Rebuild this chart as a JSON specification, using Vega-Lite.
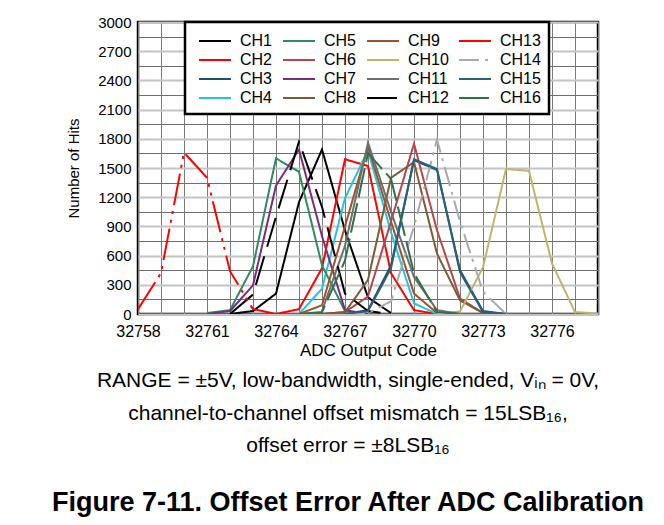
{
  "$schema": "https://vega.github.io/schema/vega-lite/v6.json",
  "width": 460,
  "height": 292,
  "autosize": {"type": "none"},
  "padding": {"left": 138, "top": 22, "right": 66, "bottom": 211},
  "background": "white",
  "config": {
    "view": {"stroke": "black", "strokeWidth": 2.5},
    "axis": {
      "labelFont": "Liberation Sans",
      "titleFont": "Liberation Sans",
      "labelColor": "black",
      "titleColor": "black",
      "titleFontWeight": "normal",
      "ticks": false,
      "domain": false
    }
  },
  "title": {
    "text": ["RANGE = ±5V, low-bandwidth, single-ended, Vᵢₙ = 0V,", "channel-to-channel offset mismatch = 15LSB₁₆,", "offset error = ±8LSB₁₆"],
    "subtitle": "Figure 7-11. Offset Error After ADC Calibration",
    "orient": "bottom",
    "anchor": "middle",
    "frame": "group",
    "dx": -20,
    "offset": 12,
    "font": "Liberation Sans",
    "fontSize": 21,
    "fontWeight": "normal",
    "lineHeight": 32.5,
    "color": "black",
    "subtitleFont": "Liberation Sans",
    "subtitleFontSize": 27,
    "subtitleFontWeight": "bold",
    "subtitleColor": "black",
    "subtitlePadding": 34
  },
  "data": {"values": [
    {"channel":"CH1","code":32762,"hits":0},{"channel":"CH1","code":32763,"hits":30},{"channel":"CH1","code":32764,"hits":210},{"channel":"CH1","code":32765,"hits":1150},{"channel":"CH1","code":32766,"hits":1690},{"channel":"CH1","code":32767,"hits":860},{"channel":"CH1","code":32768,"hits":170},{"channel":"CH1","code":32769,"hits":10},
    {"channel":"CH2","code":32764,"hits":0},{"channel":"CH2","code":32765,"hits":50},{"channel":"CH2","code":32766,"hits":470},{"channel":"CH2","code":32767,"hits":1590},{"channel":"CH2","code":32768,"hits":1520},{"channel":"CH2","code":32769,"hits":420},{"channel":"CH2","code":32770,"hits":40},{"channel":"CH2","code":32771,"hits":0},
    {"channel":"CH3","code":32767,"hits":0},{"channel":"CH3","code":32768,"hits":40},{"channel":"CH3","code":32769,"hits":500},{"channel":"CH3","code":32770,"hits":1580},{"channel":"CH3","code":32771,"hits":1480},{"channel":"CH3","code":32772,"hits":450},{"channel":"CH3","code":32773,"hits":30},{"channel":"CH3","code":32774,"hits":0},
    {"channel":"CH4","code":32765,"hits":0},{"channel":"CH4","code":32766,"hits":260},{"channel":"CH4","code":32767,"hits":1190},{"channel":"CH4","code":32768,"hits":1680},{"channel":"CH4","code":32769,"hits":840},{"channel":"CH4","code":32770,"hits":110},{"channel":"CH4","code":32771,"hits":0},
    {"channel":"CH5","code":32761,"hits":10},{"channel":"CH5","code":32762,"hits":40},{"channel":"CH5","code":32763,"hits":490},{"channel":"CH5","code":32764,"hits":1600},{"channel":"CH5","code":32765,"hits":1460},{"channel":"CH5","code":32766,"hits":500},{"channel":"CH5","code":32767,"hits":30},{"channel":"CH5","code":32768,"hits":0},
    {"channel":"CH6","code":32766,"hits":0},{"channel":"CH6","code":32767,"hits":20},{"channel":"CH6","code":32768,"hits":180},{"channel":"CH6","code":32769,"hits":950},{"channel":"CH6","code":32770,"hits":1750},{"channel":"CH6","code":32771,"hits":860},{"channel":"CH6","code":32772,"hits":160},{"channel":"CH6","code":32773,"hits":10},{"channel":"CH6","code":32774,"hits":0},
    {"channel":"CH7","code":32761,"hits":0},{"channel":"CH7","code":32762,"hits":30},{"channel":"CH7","code":32763,"hits":295},{"channel":"CH7","code":32764,"hits":1320},{"channel":"CH7","code":32765,"hits":1690},{"channel":"CH7","code":32766,"hits":800},{"channel":"CH7","code":32767,"hits":40},{"channel":"CH7","code":32768,"hits":0},
    {"channel":"CH8","code":32766,"hits":0},{"channel":"CH8","code":32767,"hits":20},{"channel":"CH8","code":32768,"hits":350},{"channel":"CH8","code":32769,"hits":1400},{"channel":"CH8","code":32770,"hits":1560},{"channel":"CH8","code":32771,"hits":620},{"channel":"CH8","code":32772,"hits":140},{"channel":"CH8","code":32773,"hits":10},{"channel":"CH8","code":32774,"hits":0},
    {"channel":"CH9","code":32765,"hits":0},{"channel":"CH9","code":32766,"hits":90},{"channel":"CH9","code":32767,"hits":900},{"channel":"CH9","code":32768,"hits":1720},{"channel":"CH9","code":32769,"hits":950},{"channel":"CH9","code":32770,"hits":210},{"channel":"CH9","code":32771,"hits":10},{"channel":"CH9","code":32772,"hits":0},
    {"channel":"CH10","code":32771,"hits":5},{"channel":"CH10","code":32772,"hits":25},{"channel":"CH10","code":32773,"hits":480},{"channel":"CH10","code":32774,"hits":1490},{"channel":"CH10","code":32775,"hits":1470},{"channel":"CH10","code":32776,"hits":520},{"channel":"CH10","code":32777,"hits":20},{"channel":"CH10","code":32778,"hits":5},
    {"channel":"CH11","code":32766,"hits":30},{"channel":"CH11","code":32767,"hits":700},{"channel":"CH11","code":32768,"hits":1760},{"channel":"CH11","code":32769,"hits":1050},{"channel":"CH11","code":32770,"hits":380},{"channel":"CH11","code":32771,"hits":40},{"channel":"CH11","code":32772,"hits":0},
    {"channel":"CH12","code":32762,"hits":0},{"channel":"CH12","code":32763,"hits":200},{"channel":"CH12","code":32764,"hits":1000},{"channel":"CH12","code":32765,"hits":1770},{"channel":"CH12","code":32766,"hits":1100},{"channel":"CH12","code":32767,"hits":210},{"channel":"CH12","code":32768,"hits":30},{"channel":"CH12","code":32769,"hits":0},
    {"channel":"CH13","code":32758,"hits":50},{"channel":"CH13","code":32759,"hits":420},{"channel":"CH13","code":32760,"hits":1660},{"channel":"CH13","code":32761,"hits":1400},{"channel":"CH13","code":32762,"hits":440},{"channel":"CH13","code":32763,"hits":50},{"channel":"CH13","code":32764,"hits":0},
    {"channel":"CH14","code":32767,"hits":0},{"channel":"CH14","code":32768,"hits":10},{"channel":"CH14","code":32769,"hits":130},{"channel":"CH14","code":32770,"hits":900},{"channel":"CH14","code":32771,"hits":1790},{"channel":"CH14","code":32772,"hits":950},{"channel":"CH14","code":32773,"hits":230},{"channel":"CH14","code":32774,"hits":0},
    {"channel":"CH15","code":32767,"hits":0},{"channel":"CH15","code":32768,"hits":30},{"channel":"CH15","code":32769,"hits":470},{"channel":"CH15","code":32770,"hits":1590},{"channel":"CH15","code":32771,"hits":1490},{"channel":"CH15","code":32772,"hits":430},{"channel":"CH15","code":32773,"hits":20},{"channel":"CH15","code":32774,"hits":0},
    {"channel":"CH16","code":32765,"hits":0},{"channel":"CH16","code":32766,"hits":20},{"channel":"CH16","code":32767,"hits":550},{"channel":"CH16","code":32768,"hits":1650},{"channel":"CH16","code":32769,"hits":1390},{"channel":"CH16","code":32770,"hits":420},{"channel":"CH16","code":32771,"hits":20},{"channel":"CH16","code":32772,"hits":0}
  ]},
  "mark": {"type": "line", "strokeJoin": "miter", "clip": true},
  "encoding": {
    "x": {
      "field": "code", "type": "quantitative",
      "scale": {"domain": [32758, 32778], "nice": false, "zero": false},
      "axis": {
        "title": "ADC Output Code",
        "values": [32758,32759,32760,32761,32762,32763,32764,32765,32766,32767,32768,32769,32770,32771,32772,32773,32774,32775,32776,32777,32778],
        "labelExpr": "(datum.value - 32758) % 3 === 0 && datum.value < 32778 ? datum.value : ''",
        "format": "d",
        "labelFlush": false,
        "labelOverlap": false,
        "labelFontSize": 16,
        "labelPadding": 9,
        "titleFontSize": 17,
        "titlePadding": 3,
        "grid": true,
        "gridColor": "#7a7a7a",
        "gridWidth": 1
      }
    },
    "y": {
      "field": "hits", "type": "quantitative",
      "scale": {"domain": [0, 3000], "nice": false},
      "axis": {
        "title": "Number of Hits",
        "values": [0,150,300,450,600,750,900,1050,1200,1350,1500,1650,1800,1950,2100,2250,2400,2550,2700,2850,3000],
        "labelExpr": "datum.value % 300 === 0 ? datum.value : ''",
        "format": "d",
        "labelFontSize": 15,
        "labelPadding": 7,
        "titleFontSize": 15,
        "titlePadding": 16,
        "grid": true,
        "gridColor": {"condition": {"test": "datum.value % 300 === 0", "value": "#c4c4c4"}, "value": "#6e6e6e"},
        "gridWidth": {"condition": {"test": "datum.value % 300 === 0", "value": 2}, "value": 1}
      }
    },
    "color": {
      "field": "channel", "type": "nominal",
      "scale": {
        "domain": ["CH1","CH5","CH9","CH13","CH2","CH6","CH10","CH14","CH3","CH7","CH11","CH15","CH4","CH8","CH12","CH16"],
        "range": ["#000000","#2e8b62","#a0522d","#ff0000","#ff0000","#b5474b","#bdb76b","#aaaaaa","#1b5166","#7b2d7b","#6e6e6e","#2b5f7e","#22c5dd","#7a5c38","#000000","#2f7048"]
      },
      "legend": {
        "title": null,
        "orient": "none",
        "legendX": 47,
        "legendY": 0,
        "columns": 4,
        "direction": "horizontal",
        "symbolType": "M-1.6,0L1.6,0",
        "symbolSize": 400,
        "symbolOffset": 11,
        "labelFont": "Liberation Sans",
        "labelFontSize": 16,
        "labelColor": "black",
        "labelOffset": 14,
        "rowPadding": -5.1,
        "columnPadding": 4,
        "padding": 8,
        "fillColor": "white",
        "strokeColor": "black",
        "encode": {"legend": {"update": {"strokeWidth": {"value": 2.5}}}}
      }
    },
    "strokeDash": {
      "field": "channel", "type": "nominal",
      "scale": {
        "domain": ["CH1","CH5","CH9","CH13","CH2","CH6","CH10","CH14","CH3","CH7","CH11","CH15","CH4","CH8","CH12","CH16"],
        "range": [[1,0],[1,0],[1,0],[32,6,3,6,3,6],[1,0],[1,0],[1,0],[20,6,3,6],[1,0],[1,0],[1,0],[1,0],[1,0],[1,0],[30,10],[30,6]]
      }
    },
    "strokeWidth": {
      "field": "channel", "type": "nominal",
      "scale": {
        "domain": ["CH1","CH5","CH9","CH13","CH2","CH6","CH10","CH14","CH3","CH7","CH11","CH15","CH4","CH8","CH12","CH16"],
        "range": [2,2,2,3.5,2,2,2.2,3.5,2,2,2,3.5,2,2,3.5,3.5]
      }
    }
  }
}
